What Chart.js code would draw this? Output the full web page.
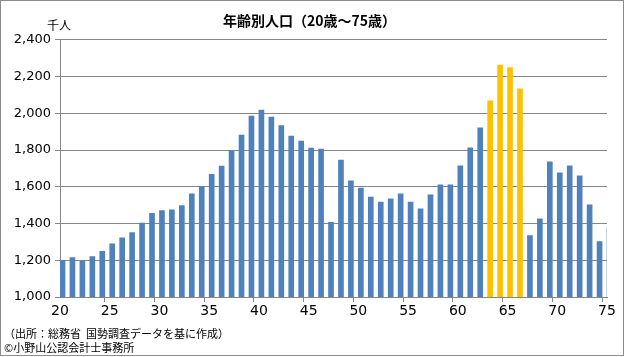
<!DOCTYPE html>
<html>
<head>
<meta charset="utf-8">
<script src="https://cdn.jsdelivr.net/npm/chart.js@4/dist/chart.umd.min.js"></script>
<style>
  html, body { margin: 0; padding: 0; background: #fff; }
  #wrap { position: relative; width: 625px; height: 357px; overflow: hidden; }
  #frame { position: absolute; left: 0; top: 0; width: 624px; height: 356px; box-sizing: border-box; border: 1px solid #8c8c8c; pointer-events: none; }
  canvas { position: absolute; left: 0; top: 0; }
  .txt { position: absolute; font-family: "Noto Sans CJK JP", sans-serif; color: #000; white-space: nowrap; line-height: 1; }
</style>
</head>
<body>
<div id="wrap">
  <canvas id="c" width="625" height="357"></canvas>
  <div id="frame"></div>
  <div class="txt" style="left:47px; top:19px; font-size:12px;">千人</div>
  <div class="txt" style="left:4px; top:328px; font-size:11px;">（出所：総務省&nbsp;&nbsp;国勢調査データを基に作成）</div>
  <div class="txt" style="left:4px; top:342px; font-size:11px;">©小野山公認会計士事務所</div>
</div>
<script>
// ---- data ----
const ages = [20,21,22,23,24,25,26,27,28,29,30,31,32,33,34,35,36,37,38,39,40,41,42,43,44,45,46,47,48,49,50,51,52,53,54,55,56,57,58,59,60,61,62,63,64,65,66,67,68,69,70,71,72,73,74,75];
const population = [1200,1215,1195,1220,1248,1290,1322,1350,1403,1455,1470,1475,1498,1562,1602,1668,1712,1795,1882,1985,2018,1980,1933,1876,1849,1811,1805,1407,1745,1633,1593,1544,1516,1535,1561,1517,1480,1556,1611,1611,1714,1812,1921,2068,2263,2249,2133,1334,1426,1736,1676,1714,1660,1502,1301,1377];
const highlightAges = [63,64,65,66];
const yTicks = [1000,1200,1400,1600,1800,2000,2200,2400];
const xLabelAges = [20,25,30,35,40,45,50,55,60,65,70,75];
const titleText = '年齢別人口（20歳～75歳）';

const BLUE = '#4F81BD';
const GOLD = '#FFC000';
const GRID = '#868686';

const barColors = ages.map(a => highlightAges.includes(a) ? GOLD : BLUE);
const spacer = ages.map(() => null);

new Chart(document.getElementById('c'), {
  type: 'bar',
  data: {
    labels: ages.map(String),
    datasets: [
      { label: 'spacer', data: spacer, backgroundColor: 'rgba(0,0,0,0)', barThickness: 5, skipNull: false },
      { label: '人口', data: population, backgroundColor: barColors, barThickness: 5, borderWidth: 0, skipNull: false }
    ]
  },
  options: {
    responsive: false,
    animation: false,
    devicePixelRatio: 1,
    layout: { padding: { left: 12, right: 18, top: 0, bottom: 0 } },
    plugins: {
      legend: { display: false },
      tooltip: { enabled: false },
      title: {
        display: true,
        text: titleText,
        color: '#000',
        font: { family: '"Noto Sans CJK JP", sans-serif', size: 14, weight: 'bold', lineHeight: 1.2 },
        padding: { top: 12, bottom: 11 }
      }
    },
    scales: {
      x: {
        type: 'category',
        offset: false,
        grid: {
          display: true,
          drawOnChartArea: false,
          drawTicks: true,
          tickLength: 5,
          color: ctx => (ctx.tick && xLabelAges.includes(ages[ctx.index])) ? GRID : 'rgba(0,0,0,0)'
        },
        border: { display: true, color: GRID, width: 1 },
        ticks: {
          autoSkip: false,
          maxRotation: 0,
          minRotation: 0,
          padding: 1,
          color: '#000',
          font: { family: '"DejaVu Sans", sans-serif', size: 14 },
          callback: (v, i) => xLabelAges.includes(ages[i]) ? String(ages[i]) : ''
        },
        afterFit: s => { s.height = 60; }
      },
      y: {
        min: yTicks[0],
        max: yTicks[yTicks.length - 1],
        afterBuildTicks: s => { s.ticks = yTicks.map(v => ({ value: v })); },
        grid: { color: GRID, lineWidth: 1, drawTicks: true, tickLength: 5 },
        border: { display: true, color: GRID, width: 1 },
        ticks: {
          padding: 4,
          color: '#000',
          font: { family: '"DejaVu Sans", sans-serif', size: 13 },
          callback: v => Number(v).toLocaleString('en-US')
        },
        afterFit: s => { s.width = 48; }
      }
    }
  }
});
</script>
</body>
</html>
